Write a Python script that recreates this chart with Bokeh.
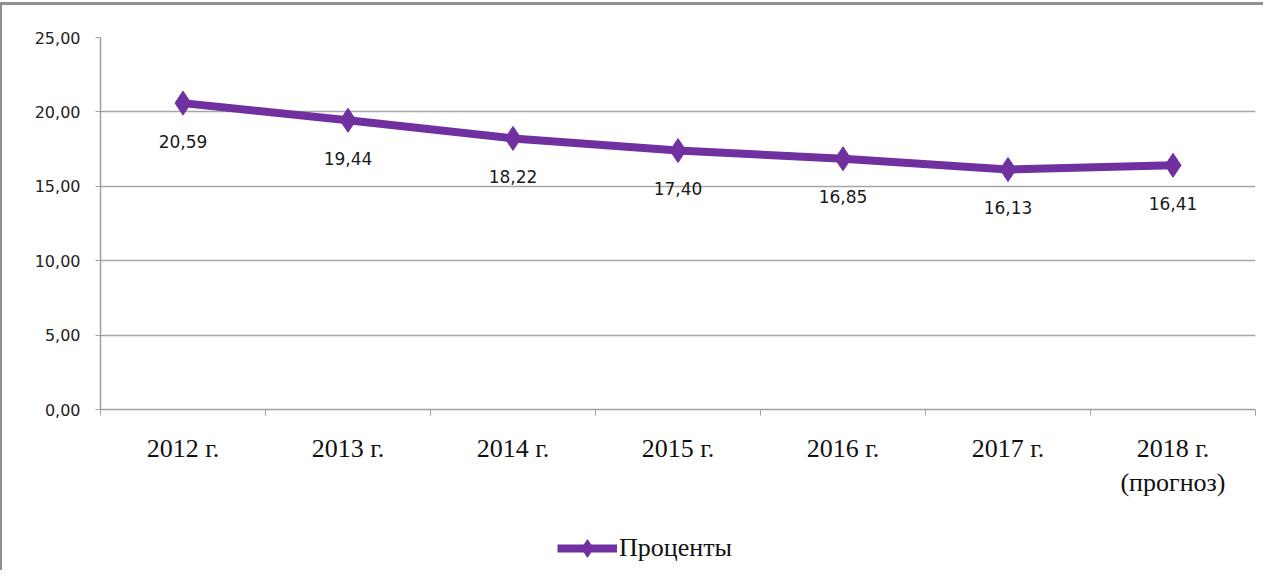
import math
from bokeh.plotting import figure
from bokeh.layouts import column
from bokeh.models import ColumnDataSource, FixedTicker, Range1d, Legend, LegendItem
from bokeh.core.properties import value
from bokeh.embed import file_html
from bokeh.resources import INLINE

categories = ["2012 г.", "2013 г.", "2014 г.", "2015 г.", "2016 г.", "2017 г.", "2018 г.\n(прогноз)"]
values = [20.59, 19.44, 18.22, 17.40, 16.85, 16.13, 16.41]
y_ticks = [0, 5, 10, 15, 20, 25]
y_tick_labels = ["0,00", "5,00", "10,00", "15,00", "20,00", "25,00"]
series_name = "Проценты"

color = "#7030a0"
W = 1261

xs = [i + 0.5 for i in range(len(categories))]
labels = [f"{v:.2f}".replace(".", ",") for v in values]
src = ColumnDataSource(dict(x=xs, y=values, lab=labels))

p = figure(width=W, height=504, output_backend="svg", toolbar_location=None,
           x_range=Range1d(0, len(categories)), y_range=Range1d(0, 25),
           min_border_left=98, min_border_right=8, min_border_top=32, min_border_bottom=100)
p.outline_line_color = None
p.background_fill_color = "white"
p.border_fill_color = "white"

# grid
p.xgrid.grid_line_color = None
p.ygrid.grid_line_color = "#a6a6a6"
p.ygrid.grid_line_width = 1.5

# x axis
xax = p.xaxis[0]
xax.ticker = FixedTicker(ticks=xs, minor_ticks=list(range(len(categories) + 1)))
xax.major_label_overrides = {x: c for x, c in zip(xs, categories)}
xax.major_tick_out = 0
xax.major_tick_in = 0
xax.minor_tick_out = 6
xax.minor_tick_in = 0
xax.minor_tick_line_color = "#a0a0a0"
xax.axis_line_color = "#a0a0a0"
xax.axis_line_width = 1.5
xax.major_label_text_font = "Liberation Serif"
xax.major_label_text_font_size = "26px"
xax.major_label_text_color = "#111111"
xax.major_label_standoff = 18

# y axis
yax = p.yaxis[0]
yax.ticker = FixedTicker(ticks=y_ticks, minor_ticks=[])
yax.major_label_overrides = {t: l for t, l in zip(y_ticks, y_tick_labels)}
yax.major_tick_out = 5
yax.major_tick_in = 0
yax.major_tick_line_color = "#a0a0a0"
yax.axis_line_color = "#a0a0a0"
yax.axis_line_width = 1.5
yax.major_label_text_font = "DejaVu Sans"
yax.major_label_text_font_size = "16px"
yax.major_label_text_color = "#222222"
yax.major_label_standoff = 15

p.line("x", "y", source=src, line_color=color, line_width=8)
p.scatter("x", "y", source=src, marker="diamond", size=24, fill_color=color, line_color=color)

p.text("x", "y", text="lab", source=src, y_offset=38, text_align="center", text_baseline="middle",
       text_font=value("DejaVu Sans"), text_font_size="17px", text_color="#1a1a1a")

# legend strip below the chart (its glyphs sit outside the strip's visible range)
pl = figure(width=W, height=61, output_backend="svg", toolbar_location=None,
            x_range=Range1d(0, 1), y_range=Range1d(0, 1),
            x_axis_location=None, y_axis_location=None,
            min_border=0, min_border_left=0, min_border_right=0, min_border_top=0, min_border_bottom=0)
pl.outline_line_color = None
pl.xgrid.visible = False
pl.ygrid.visible = False
leg_src = ColumnDataSource(dict(x=[-10], y=[-10]))
lr = pl.line("x", "y", source=leg_src, line_color=color, line_width=8)
mr = pl.scatter("x", "y", source=leg_src, marker="diamond", size=24, fill_color=color, line_color=color)
legend = Legend(items=[LegendItem(label=series_name, renderers=[lr, mr])],
                location=(457, 0), orientation="horizontal",
                glyph_width=60, glyph_height=44, label_standoff=2,
                padding=0, margin=0,
                border_line_color=None, background_fill_alpha=0,
                label_text_font="Liberation Serif", label_text_font_size="26px",
                label_text_color="#111111")
pl.add_layout(legend, "center")

layout = column(p, pl, spacing=0,
                styles={"border-top": "3px solid #8f8f8f", "border-left": "2px solid #8f8f8f", "margin-top": "2px"})

open("out.html", "w").write(file_html(layout, INLINE))
